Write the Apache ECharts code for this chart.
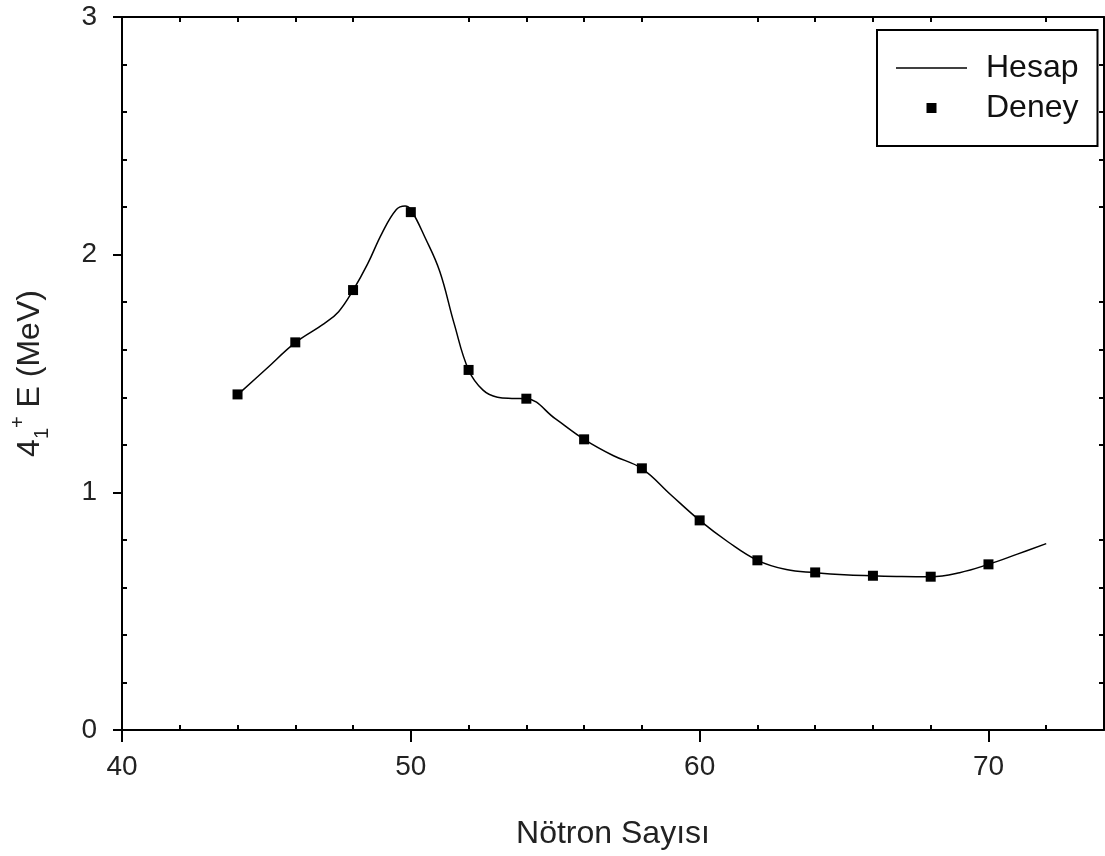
<!DOCTYPE html>
<html>
<head>
<meta charset="utf-8">
<script src="https://cdn.jsdelivr.net/npm/echarts@6/dist/echarts.min.js"></script>
<style>
  html, body { margin: 0; padding: 0; background: #fff; }
  #chart { width: 1105px; height: 856px; }
</style>
</head>
<body>
<div id="chart"></div>
<script>
// calculated curve (Hesap)
const hesapN = [44, 45, 46, 47, 47.5, 48, 48.5, 49, 49.5, 49.8, 50, 50.5, 51, 51.5, 52, 52.5, 53, 53.5, 54, 55, 56, 57, 58, 59, 60, 61, 62, 63, 64, 65, 66, 67, 68, 69, 70, 71, 72]
const hesapE = [1.41, 1.52, 1.63, 1.71, 1.76, 1.85, 1.96, 2.09, 2.19, 2.205, 2.19, 2.07, 1.93, 1.71, 1.515, 1.43, 1.40, 1.395, 1.394, 1.31, 1.223, 1.155, 1.10, 0.99, 0.882, 0.79, 0.714, 0.675, 0.662, 0.653, 0.649, 0.646, 0.645, 0.662, 0.697, 0.74, 0.784]

// experimental points (Deney)
const deneyN = [44, 46, 48, 50, 52, 54, 56, 58, 60, 62, 64, 66, 68, 70]
const deneyE = [1.412, 1.631, 1.851, 2.179, 1.515, 1.394, 1.223, 1.101, 0.882, 0.714, 0.663, 0.649, 0.645, 0.697]

const xMajor = [40, 50, 60, 70]
const yMajor = [0, 1, 2, 3]

const FONT = 'Liberation Sans, Arial, sans-serif'
const black = '#000'

function minorValues(min, max, step, majors) {
  const out = []
  for (let v = min; v <= max + 1e-9; v += step) {
    const r = Math.round(v * 10) / 10
    if (!majors.some(m => Math.abs(m - r) < 1e-6)) out.push(r)
  }
  return out
}

const xMinor = minorValues(40, 74, 2, xMajor)
const yMinor = minorValues(0, 3, 0.2, yMajor)

const chart = echarts.init(document.getElementById('chart'))

const lineStyle = { color: black, width: 2 }

const option = {
  animation: false,
  backgroundColor: '#fff',
  textStyle: { fontFamily: FONT },
  grid: { left: 118, right: 1, top: 17, bottom: 126 },
  legend: {
    left: 877,
    top: 30,
    orient: 'vertical',
    padding: [22, 19, 22, 19],
    borderColor: black,
    borderWidth: 2,
    itemWidth: 71,
    itemHeight: 10,
    itemGap: 8,
    textStyle: { fontSize: 32, color: '#111', fontFamily: FONT, padding: [0, 0, 0, 14], lineHeight: 32 },
    data: [
      { name: 'Hesap', icon: 'path://M0,0h71v1.5h-71z' },
      { name: 'Deney', icon: 'path://M0,0h10v10h-10z' }
    ]
  },
  xAxis: [
    {
      type: 'value', position: 'bottom', min: 40, max: 74,
      name: 'Nötron Sayısı', nameLocation: 'middle', nameGap: 88,
      nameTextStyle: { fontSize: 32, color: '#222', fontFamily: FONT },
      axisLine: { show: true, onZero: false, lineStyle },
      axisTick: { show: true, inside: false, length: 12, customValues: xMajor, lineStyle },
      axisLabel: { fontSize: 28, color: '#222', margin: 23, customValues: xMajor, fontFamily: FONT },
      splitLine: { show: false }
    },
    {
      type: 'value', position: 'bottom', min: 40, max: 74,
      axisLine: { show: false, onZero: false },
      axisTick: { show: true, inside: true, length: 5, customValues: xMinor, lineStyle },
      axisLabel: { show: false },
      splitLine: { show: false }
    },
    {
      type: 'value', position: 'top', min: 40, max: 74,
      axisLine: { show: true, onZero: false, lineStyle },
      axisTick: { show: true, inside: true, length: 5, customValues: xMinor, lineStyle },
      axisLabel: { show: false },
      splitLine: { show: false }
    }
  ],
  yAxis: [
    {
      type: 'value', position: 'left', min: 0, max: 3,
      name: '{n|4}{sub|1}{sup|+}{n| E (MeV)}',
      nameLocation: 'middle', nameGap: 70, nameRotate: 90,
      nameTextStyle: {
        color: '#222',
        rich: {
          n: { fontSize: 32, lineHeight: 44, verticalAlign: 'middle', color: '#222', fontFamily: FONT },
          sub: { fontSize: 20, lineHeight: 20, verticalAlign: 'bottom', color: '#222', fontFamily: FONT },
          sup: { fontSize: 20, lineHeight: 20, verticalAlign: 'top', color: '#222', fontFamily: FONT }
        }
      },
      axisLine: { show: true, onZero: false, lineStyle },
      axisTick: { show: true, inside: false, length: 9, customValues: yMajor, lineStyle },
      axisLabel: { fontSize: 28, color: '#222', margin: 25, customValues: yMajor, fontFamily: FONT },
      splitLine: { show: false }
    },
    {
      type: 'value', position: 'left', min: 0, max: 3,
      axisLine: { show: false, onZero: false },
      axisTick: { show: true, inside: true, length: 5, customValues: yMinor, lineStyle },
      axisLabel: { show: false },
      splitLine: { show: false }
    },
    {
      type: 'value', position: 'right', min: 0, max: 3,
      axisLine: { show: true, onZero: false, lineStyle },
      axisTick: { show: true, inside: true, length: 5, customValues: yMinor, lineStyle },
      axisLabel: { show: false },
      splitLine: { show: false }
    }
  ],
  series: [
    {
      name: 'Hesap',
      type: 'line',
      xAxisIndex: 0,
      yAxisIndex: 0,
      smooth: 0.4,
      symbol: 'none',
      lineStyle: { color: black, width: 1.5 },
      itemStyle: { color: black },
      data: hesapN.map((n, i) => [n, hesapE[i]])
    },
    {
      name: 'Deney',
      type: 'scatter',
      xAxisIndex: 0,
      yAxisIndex: 0,
      symbol: 'rect',
      symbolSize: 10,
      itemStyle: { color: black, opacity: 1 },
      data: deneyN.map((n, i) => [n, deneyE[i]]),
      z: 3
    }
  ]
}

chart.setOption(option)
window.addEventListener('resize', () => chart.resize())
</script>
</body>
</html>
